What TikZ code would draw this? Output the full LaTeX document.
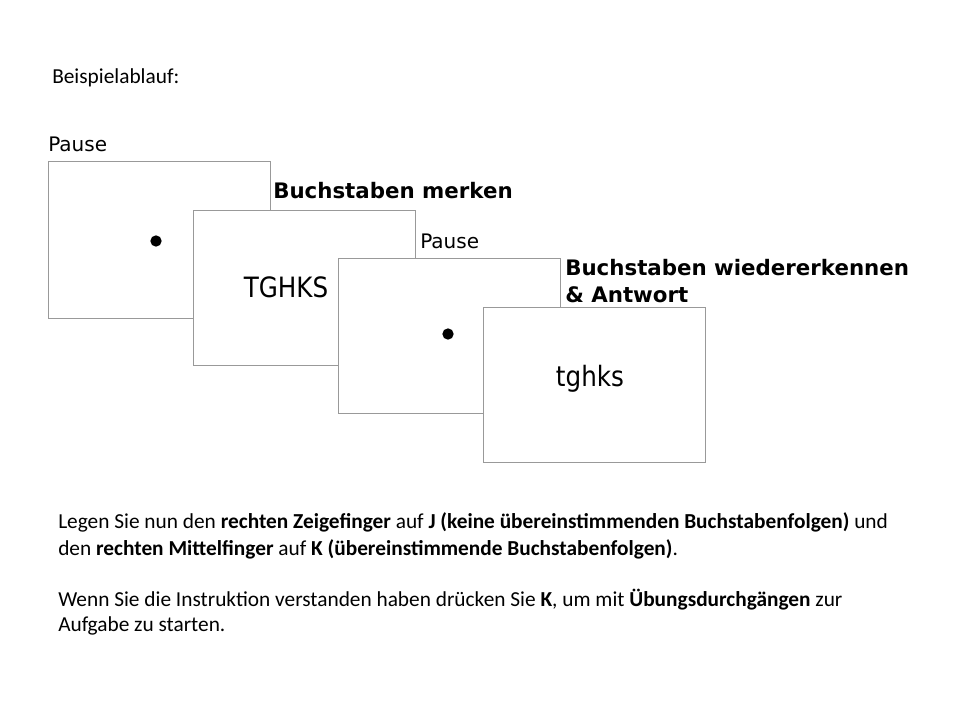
\documentclass[tikz,border=0pt]{standalone}
\usepackage{fontspec}
\setmainfont{Carlito}
\newfontfamily\dejavu{DejaVu Sans}
\newfontfamily\dejavunarrow[FakeStretch=0.88]{DejaVu Sans}
\begin{document}
\begin{tikzpicture}[x=0.75pt,y=-0.75pt,
  screen/.style={draw=black!40,line width=0.75pt,fill=white},
  lbl/.style={inner sep=0pt,anchor=base west,font=\dejavu\fontsize{15}{18}\selectfont},
  blbl/.style={lbl,font=\dejavu\bfseries\fontsize{16}{19}\selectfont},
  stim/.style={inner sep=0pt,font=\dejavunarrow\fontsize{21}{24}\selectfont},
  txt/.style={inner sep=0pt,anchor=base west,font=\fontsize{16}{19}\selectfont},
  fix/.style={circle,fill=black,inner sep=0pt,minimum size=8.5pt}]
\useasboundingbox[fill=white] (0,0) rectangle (960,720);
\node[txt] (title) at (52,84) {Beispielablauf:};
% screens
\draw[screen] (48,162) rectangle (270,318);
\node[fix] (dot1) at (156,241) {};
\node[lbl] (p1) at (48,152) {Pause};
\node[blbl] (b1) at (273,199) {Buchstaben merken};
\draw[screen] (193,211) rectangle (415,365);
\node[stim] (tg) at (286,287) {TGHKS};
\node[lbl] (p2) at (420,249) {Pause};
\draw[screen] (338,259) rectangle (560,413);
\node[fix] (dot2) at (448,334) {};
\node[blbl] (b2) at (565,276) {Buchstaben wiedererkennen};
\node[blbl] (b3) at (565,302) {\& Antwort};
\draw[screen] (483,308) rectangle (705,462);
\node[stim] (tgl) at (590,379) {tghks};
% text
\node[txt] (l1) at (58,528) {Legen Sie nun den \textbf{rechten Zeigefinger} auf \textbf{J (keine übereinstimmenden Buchstabenfolgen)} und};
\node[txt] (l2) at (58,555) {den \textbf{rechten Mittelfinger} auf \textbf{K (übereinstimmende Buchstabenfolgen)}.};
\node[txt] (l3) at (58,606) {Wenn Sie die Instruktion verstanden haben drücken Sie \textbf{K}, um mit \textbf{Übungsdurchgängen} zur};
\node[txt] (l4) at (58,631) {Aufgabe zu starten.};
\end{tikzpicture}
\end{document}
